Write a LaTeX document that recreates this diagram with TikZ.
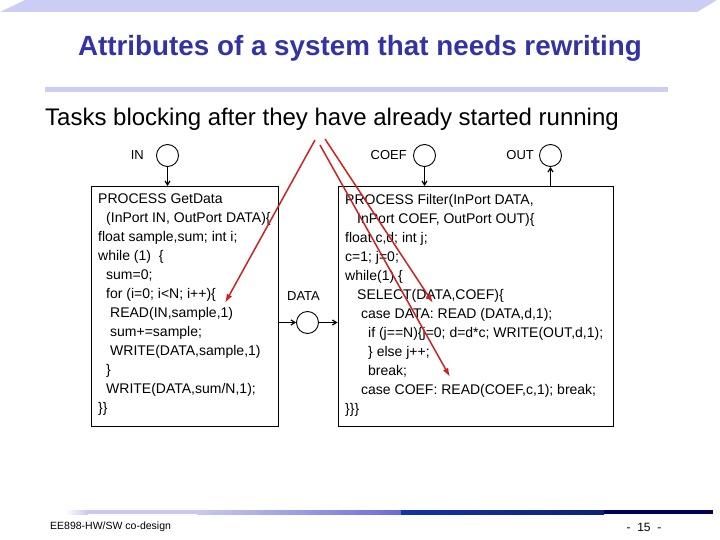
\documentclass[tikz,border=0pt]{standalone}
\usepackage{fontspec}
\setmainfont{Liberation Sans}
\usepackage{xcolor}
\usetikzlibrary{arrows.meta}
\definecolor{titleblue}{RGB}{51,51,166}
\definecolor{bandlav}{RGB}{204,204,245}
\definecolor{arrowred}{RGB}{204,34,34}
\definecolor{footA}{RGB}{200,200,240}
\definecolor{footB}{RGB}{155,155,230}
\definecolor{footC}{RGB}{106,106,219}
\definecolor{footD}{RGB}{20,50,170}
\definecolor{footE}{RGB}{0,0,90}
\tikzstyle{port}=[draw,circle,black,line width=0.9pt,inner sep=0pt,minimum width=22pt]
\tikzstyle{proc}=[draw,rectangle,black,line width=1pt,inner sep=0pt]
\tikzstyle{code}=[align=left,inner sep=0pt,anchor=north west,font=\fontsize{14}{19}\selectfont]
\tikzstyle{portname}=[inner sep=0pt,font=\fontsize{13}{15}\selectfont]
\tikzstyle{flow}=[draw=black,line width=1.2pt,-{Straight Barb[length=4pt,width=5pt]}]
\tikzstyle{flowback}=[draw=black,line width=1.2pt,{Straight Barb[length=4pt,width=5pt]}-]
\tikzstyle{hint}=[arrowred,line width=1.5pt,-{Latex[length=9pt,width=6pt]}]

\begin{document}
\begin{tikzpicture}[x=1pt,y=-1pt]%
	\useasboundingbox (0,0) rectangle (720,540);

	% slide frame
	\fill [bandlav] (25,0) -- (717,0) -- (697,12) -- (0,12) -- cycle;
	\draw (360,48) node (Title) [text=titleblue,font=\fontsize{27.8}{32}\selectfont\bfseries] {Attributes of a system that needs rewriting};
	\fill [bandlav] (45,87) rectangle (668,92);
	\draw (45,119) node (Subtitle) [anchor=west,inner sep=0pt,font=\fontsize{24}{28}\selectfont] {Tasks blocking after they have already started running};

	% processes
	\draw (90.5,186.5) node (GetData) [proc,anchor=north west,minimum width=187pt,minimum height=239pt] {};
	\draw (337.5,186.5) node (Filter) [proc,anchor=north west,minimum width=275pt,minimum height=239pt] {};

	\draw (98,194) node (GetData_code) [code] {PROCESS GetData\\
		\hspace*{8pt}(InPort IN, OutPort DATA)\{\\
		float sample,sum; int i;\\
		while (1)\ \ \{\\
		\hspace*{8pt}sum=0;\\
		\hspace*{8pt}for (i=0; i<N; i++)\{\\
		\hspace*{12pt}READ(IN,sample,1)\\
		\hspace*{12pt}sum+=sample;\\
		\hspace*{12pt}WRITE(DATA,sample,1)\\
		\hspace*{8pt}\}\\
		\hspace*{8pt}WRITE(DATA,sum/N,1);\\
		\}\}};
	\draw (345,194) node (Filter_code) [code] {PROCESS Filter(InPort DATA,\\
		\hspace*{12pt}InPort COEF, OutPort OUT)\{\\
		float c,d; int j;\\
		c=1; j=0;\\
		while(1) \{\\
		\hspace*{12pt}SELECT(DATA,COEF)\{\\
		\hspace*{16pt}case DATA: READ (DATA,d,1);\\
		\hspace*{23pt}if (j==N)\{j=0; d=d*c; WRITE(OUT,d,1);\\
		\hspace*{23pt}\} else j++;\\
		\hspace*{23pt}break;\\
		\hspace*{16pt}case COEF: READ(COEF,c,1); break;\\
		\}\}\}};

	% ports
	\draw (167.5,155.5) node (Port_IN) [port] {};
	\draw (424.5,155.5) node (Port_COEF) [port] {};
	\draw (550.5,155.5) node (Port_OUT) [port] {};
	\draw (307.5,322.5) node (Port_DATA) [port] {};

	\draw (Port_IN.west) node [portname,anchor=east,xshift=-12pt] {IN};
	\draw (Port_COEF.west) node [portname,anchor=east,xshift=-6pt] {COEF};
	\draw (Port_OUT.west) node [portname,anchor=east,xshift=-5pt] {OUT};
	\draw (Port_DATA.north) node [portname,anchor=south,xshift=-4pt,yshift=10pt] {DATA};

	\coordinate (IN_in) at (167.5,186);
	\coordinate (COEF_in) at (424.5,186);
	\coordinate (OUT_out) at (550.5,186);
	\draw [flow] (Port_IN.south) -- (IN_in);
	\draw [flowback] (COEF_in) -- (Port_COEF.south);
	\draw [flow] (OUT_out) -- (Port_OUT.south);
	\draw [flow] (GetData.east |- Port_DATA.west) -- (Port_DATA.west);
	\draw [flow] (Port_DATA.east) -- (Filter.west |- Port_DATA.east);

	% blocking points
	\coordinate (Start_1) at (315,140);
	\coordinate (Start_2) at (320,145);
	\coordinate (Start_3) at (325,139);
	\coordinate (Block_READ) at (225,303);
	\coordinate (Block_SELECT) at (433,303);
	\coordinate (Block_COEF) at (450,377);
	\draw [hint] (Start_1) -- (Block_READ);
	\draw [hint] (Start_2) -- (Block_COEF);
	\draw [hint] (Start_3) -- (Block_SELECT);

	% footer
	\shade [left color=white,right color=footA] (65,510) rectangle (88,514);
	\fill [footA] (88,510) rectangle (197,514);
	\shade [left color=footA,right color=footB] (197,510) rectangle (300,514);
	\shade [left color=footB,right color=footC] (300,510) rectangle (401,514);
	\shade [left color=footD,right color=footD!70!black] (401,510) rectangle (604,514);
	\fill [footE] (604,510) rectangle (713,514);
	\draw (50,527) node (Footer) [anchor=west,inner sep=0pt,font=\fontsize{10.5}{12}\selectfont] {EE898-HW/SW co-design};
	\draw (644,527) node (PageNo) [font=\fontsize{12}{14}\selectfont] {-\ \ 15\ \ -};

\end{tikzpicture}
\end{document}
